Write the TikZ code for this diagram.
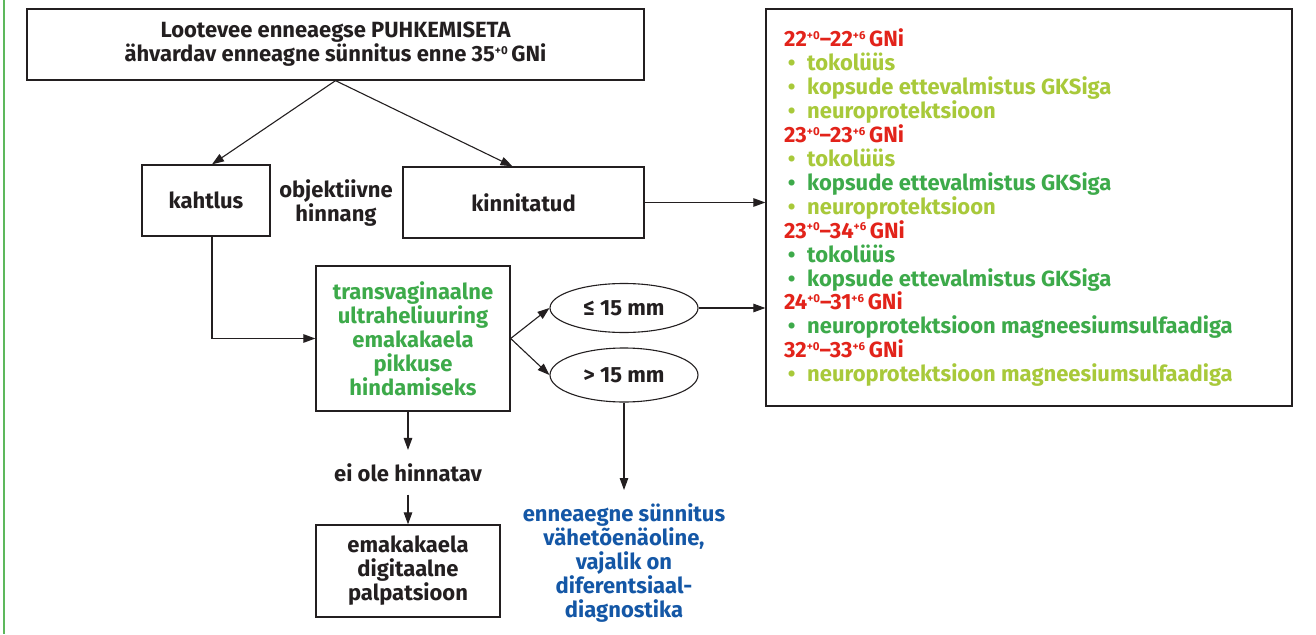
\documentclass[tikz,border=0pt]{standalone}
\usepackage{fontspec}
\setmainfont{Fira Sans}
\usetikzlibrary{arrows.meta,shapes.geometric,calc}
\definecolor{ink}{HTML}{231F20}
\definecolor{rred}{HTML}{E2231A}
\definecolor{lgreen}{HTML}{A8C93A}
\definecolor{dgreen}{HTML}{3DAA4A}
\definecolor{bblue}{HTML}{1457A6}
\definecolor{framegreen}{HTML}{5DB85C}
\newcommand\txtfont{\fontsize{22}{24}\selectfont\bfseries}
\newcommand\sups[1]{\raisebox{7.3pt}{\fontsize{11.5}{11.5}\selectfont #1}}
\newcommand\bul{\makebox[23pt][l]{\,•}}
\begin{document}
\begin{tikzpicture}[x=1pt,y=-1pt,
  box/.style={draw=ink, line width=1.3pt, rectangle, inner sep=0pt, font=\txtfont, text=ink, align=center},
  oval/.style={draw=ink, line width=1.1pt, ellipse, inner sep=0pt, font=\txtfont, text=ink},
  label/.style={inner xsep=0pt, inner ysep=13pt, font=\txtfont, align=center},
  rline/.style={anchor=base west, inner sep=0pt, font=\txtfont},
  arr/.style={draw=ink, line width=1.1pt, -{Triangle[length=12pt,width=8.5pt]}}]
\useasboundingbox (0,0) rectangle (1316,634);
\fill[white] (0,0) rectangle (1316,634);
\draw[framegreen, line width=1.5pt] (4,0) -- (4,634);

\node[box, minimum width=617pt, minimum height=71pt] (top) at (335.5,44.5)
  {Lootevee enneaegse PUHKEMISETA\\ähvardav enneagne sünnitus enne 35\sups{+0}\,GNi};
\node[box, minimum width=128pt, minimum height=71pt] (kaht) at (206,200.5) {kahtlus};
\node[box, minimum width=241pt, minimum height=71pt] (kinn) at (523.5,202.5) {kinnitatud};
\node[inner sep=0pt, font=\txtfont, align=center, text=ink] (obj) at (336,203) {objektiivne\\hinnang};
\node[box, minimum width=194pt, minimum height=145pt, text=dgreen] (tv) at (413,338.5)
  {transvaginaalne\\ultraheliuuring\\emakakaela\\pikkuse\\hindamiseks};
\node[oval, minimum width=148pt, minimum height=49pt] (le) at (624,308) {≤ 15 mm};
\node[oval, minimum width=148pt, minimum height=54pt] (gt) at (624,375) {> 15 mm};
\node[label, text=ink, anchor=base] (ei) at (408,481) {ei ole hinnatav};
\node[box, minimum width=184pt, minimum height=92pt] (bot) at (408,571)
  {emakakaela\\digitaalne\\palpatsioon};
\node[label, text=bblue, anchor=north] (blue) at (624,490)
  {enneaegne sünnitus\\vähetõenäoline,\\vajalik on\\diferentsiaal-\\diagnostika};
\node[draw=ink, line width=1.3pt, rectangle, inner sep=0pt, minimum width=526pt, minimum height=397pt] (rbox) at (1029,207.5) {};

\node[rline, text=rred]   (r1)  at (784,46.5)  {22\sups{+0}–22\sups{+6}\,GNi};
\node[rline, text=lgreen] (r2)  at (784,70.4)  {\bul tokolüüs};
\node[rline, text=lgreen] (r3)  at (784,94.4)  {\bul kopsude ettevalmistus GKSiga};
\node[rline, text=lgreen] (r4)  at (784,118.3) {\bul neuroprotektsioon};
\node[rline, text=rred]   (r5)  at (784,142.3) {23\sups{+0}–23\sups{+6}\,GNi};
\node[rline, text=lgreen] (r6)  at (784,166.2) {\bul tokolüüs};
\node[rline, text=dgreen] (r7)  at (784,190.2) {\bul kopsude ettevalmistus GKSiga};
\node[rline, text=lgreen] (r8)  at (784,214.1) {\bul neuroprotektsioon};
\node[rline, text=rred]   (r9)  at (784,238.1) {23\sups{+0}–34\sups{+6}\,GNi};
\node[rline, text=dgreen] (r10) at (784,262.0) {\bul tokolüüs};
\node[rline, text=dgreen] (r11) at (784,286.0) {\bul kopsude ettevalmistus GKSiga};
\node[rline, text=rred]   (r12) at (784,309.9) {24\sups{+0}–31\sups{+6}\,GNi};
\node[rline, text=dgreen] (r13) at (784,333.9) {\bul neuroprotektsioon magneesiumsulfaadiga};
\node[rline, text=rred]   (r14) at (784,357.8) {32\sups{+0}–33\sups{+6}\,GNi};
\node[rline, text=lgreen] (r15) at (784,381.8) {\bul neuroprotektsioon magneesiumsulfaadiga};

\draw[arr] (top.south) -- ([xshift=6pt]kaht.north);
\draw[arr] (top.south) -- ([xshift=-11pt]kinn.north);
\draw[arr] (kinn.east) -- (kinn.east -| rbox.west);
\draw[arr] ([xshift=6pt]kaht.south) |- (tv.west);
\draw[arr] (tv.east) -- (le.west);
\draw[arr] (tv.east) -- (gt.west);
\draw[arr] (le.east) -- (le.east -| rbox.west);
\draw[arr] ([xshift=-5pt]tv.south) -- (ei.north);
\draw[arr] (ei.south) -- (bot.north);
\draw[arr] (gt.south) -- (blue.north);
\end{tikzpicture}
\end{document}
